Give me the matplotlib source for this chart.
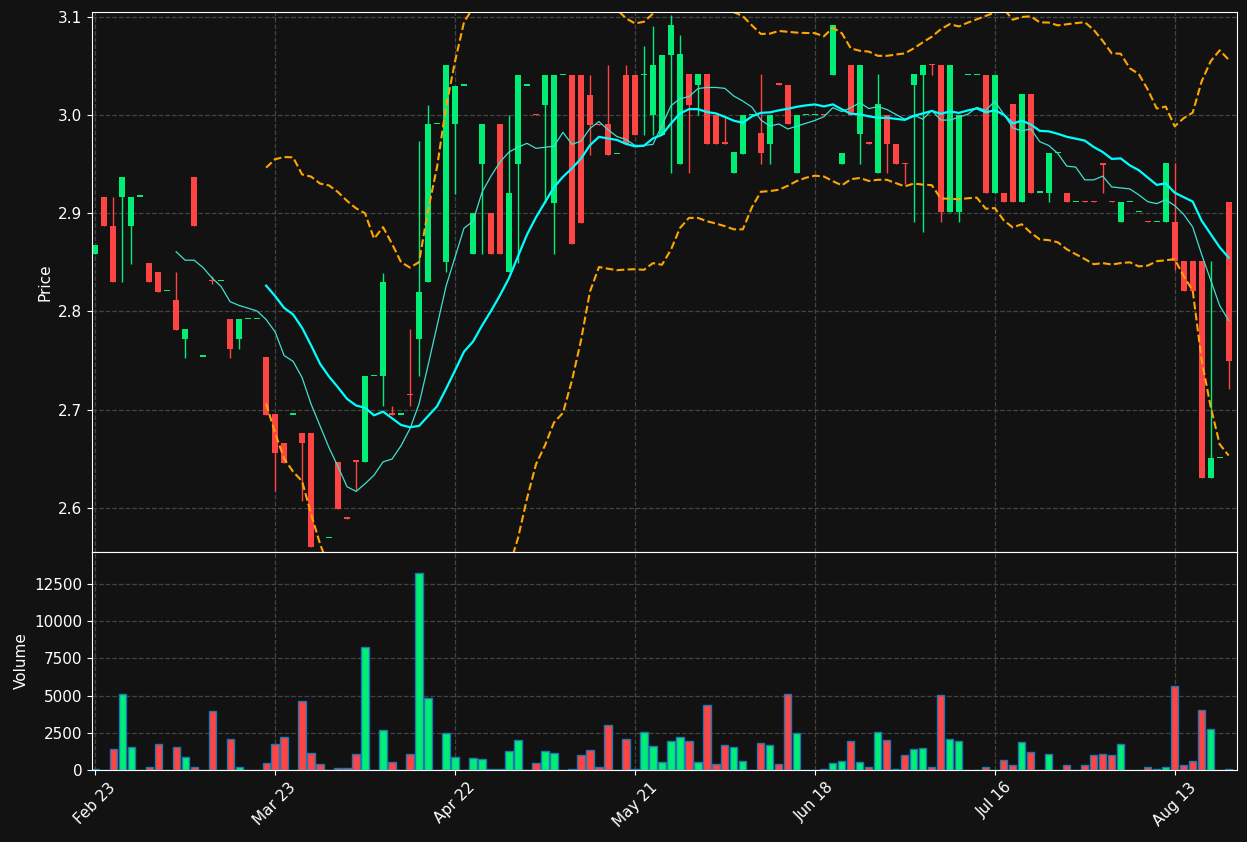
import numpy as np
import pandas as pd
import matplotlib
matplotlib.use("Agg")
import matplotlib.pyplot as plt

# daily OHLC (index-based x axis)
opens = [2.858, 2.917, 2.887, 2.917, 2.887, 2.917, 2.849, 2.840, 2.821, 2.812,
         2.772, 2.937, 2.754, 2.832, 2.831, 2.792, 2.772, 2.792, 2.792, 2.754,
         2.696, 2.666, 2.695, 2.676, 2.676, 2.550, 2.569, 2.647, 2.590, 2.648,
         2.647, 2.734, 2.734, 2.696, 2.695, 2.716, 2.772, 2.830, 2.991, 2.850,
         2.991, 3.030, 2.859, 2.950, 2.900, 2.991, 2.840, 2.950, 3.030, 3.001,
         3.010, 2.910, 3.041, 3.041, 3.041, 3.020, 2.991, 2.991, 2.960, 3.041,
         3.041, 3.041, 3.000, 2.980, 3.061, 2.950, 3.042, 3.031, 3.042, 3.000,
         2.972, 2.941, 2.960, 3.000, 2.982, 2.971, 3.032, 3.031, 2.941, 3.000,
         3.000, 3.001, 3.041, 2.950, 3.051, 2.981, 2.972, 2.941, 3.000, 2.971,
         2.951, 3.031, 3.041, 3.052, 3.051, 2.901, 2.901, 3.041, 3.041, 3.041,
         2.921, 2.921, 3.011, 2.911, 3.021, 2.921, 2.921, 2.961, 2.921, 2.911,
         2.912, 2.912, 2.951, 2.912, 2.891, 2.911, 2.901, 2.892, 2.891, 2.891,
         2.891, 2.851, 2.851, 2.851, 2.630, 2.651, 2.911]
closes = [2.868, 2.887, 2.830, 2.937, 2.917, 2.917, 2.830, 2.820, 2.821, 2.781,
          2.782, 2.887, 2.754, 2.831, 2.831, 2.762, 2.792, 2.792, 2.792, 2.695,
          2.656, 2.646, 2.695, 2.666, 2.560, 2.540, 2.569, 2.599, 2.589, 2.647,
          2.734, 2.734, 2.830, 2.695, 2.695, 2.715, 2.820, 2.991, 2.991, 3.051,
          3.030, 3.030, 2.900, 2.991, 2.859, 2.859, 2.921, 3.041, 3.030, 3.000,
          3.041, 3.041, 3.041, 2.869, 2.890, 2.990, 2.990, 2.959, 2.960, 2.971,
          2.980, 3.041, 3.051, 3.061, 3.092, 3.062, 3.010, 3.042, 2.971, 2.971,
          2.971, 2.962, 3.000, 3.000, 2.961, 3.000, 3.031, 2.991, 3.000, 3.000,
          3.000, 3.000, 3.092, 2.961, 3.000, 3.051, 2.971, 3.011, 2.971, 2.950,
          2.950, 3.042, 3.051, 3.051, 2.901, 3.051, 3.000, 3.041, 3.041, 2.921,
          3.041, 2.911, 2.911, 3.021, 2.921, 2.921, 2.961, 2.961, 2.911, 2.911,
          2.911, 2.911, 2.949, 2.911, 2.911, 2.911, 2.901, 2.891, 2.891, 2.951,
          2.851, 2.821, 2.821, 2.630, 2.651, 2.651, 2.750]
# wick extremes where they go past the body (index: value)
high_wicks = {2: 2.917, 4: 2.917, 9: 2.840, 10: 2.782, 13: 2.836, 16: 2.792,
              32: 2.839, 33: 2.704, 35: 2.782, 36: 2.974, 37: 3.010, 40: 3.030,
              46: 3.000, 55: 3.041, 57: 3.051, 59: 3.051, 61: 3.070, 62: 3.091,
              64: 3.102, 65: 3.082, 67: 3.042, 70: 2.998, 74: 3.042, 87: 3.042,
              91: 3.042, 92: 3.051, 112: 2.951, 120: 2.951, 124: 2.851}
low_wicks = {3: 2.830, 4: 2.848, 10: 2.753, 13: 2.828, 15: 2.753, 16: 2.762,
             20: 2.617, 23: 2.607, 29: 2.618, 32: 2.704, 35: 2.704, 36: 2.734,
             39: 2.840, 40: 2.920, 43: 2.859, 46: 2.840, 47: 2.849, 50: 2.910,
             51: 2.859, 55: 2.959, 61: 2.980, 62: 2.980, 64: 2.941, 66: 2.941,
             67: 3.000, 74: 2.950, 75: 2.950, 85: 2.950, 87: 2.941, 88: 2.941,
             90: 2.930, 91: 2.891, 92: 2.881, 93: 3.041, 94: 2.891, 96: 2.891,
             106: 2.911, 112: 2.921, 120: 2.842, 126: 2.721}
volumes = [90, 0, 1430, 5085, 1570, 0, 180, 1725, 0, 1520,
           900, 180, 0, 3990, 30, 2060, 220, 0, 0, 450,
           1725, 2240, 0, 4660, 1165, 380, 0, 110, 110, 1050,
           8240, 0, 2665, 515, 0, 1050, 13216, 4816, 0, 2464,
           850, 0, 785, 717, 45, 45, 1254, 1994, 0, 448,
           1254, 1120, 0, 45, 986, 1322, 180, 3000, 0, 2060,
           45, 2530, 1590, 515, 1926, 2195, 1926, 515, 4346, 380,
           1657, 1523, 582, 0, 1792, 1657, 380, 5085, 2464, 0,
           0, 45, 448, 582, 1926, 515, 224, 2530, 1994, 45,
           986, 1389, 1456, 180, 5018, 2060, 1926, 0, 0, 224,
           0, 650, 314, 1860, 1187, 0, 1053, 0, 314, 0,
           314, 986, 1053, 986, 1725, 0, 0, 224, 45, 180,
           5622, 314, 582, 4010, 2733, 0, 45]
tick_labels = ["Feb 23", "Mar 23", "Apr 22", "May 21", "Jun 18", "Jul 16", "Aug 13"]
tick_pos = [0, 20, 40, 60, 80, 100, 120]

n = len(closes)
x = np.arange(n)
o = np.array(opens)
c = np.array(closes)
hi = np.maximum(o, c)
lo = np.minimum(o, c)
for k, v in high_wicks.items():
    hi[k] = max(hi[k], v)
for k, v in low_wicks.items():
    lo[k] = min(lo[k], v)

# 10/20 moving averages and 20-bar bands at 2 std
cs = pd.Series(c)
ma10 = cs.rolling(10).mean()
ma20 = cs.rolling(20).mean()
sd20 = cs.rolling(20).std(ddof=0)
upper = ma20 + 2 * sd20
lower = ma20 - 2 * sd20

UP, DOWN, BG = "#00ee76", "#ff4444", "#121212"
cols = [DOWN if cc < oo else UP for oo, cc in zip(o, c)]

fig = plt.figure(figsize=(12.47, 8.42), dpi=100, facecolor=BG)
ax = fig.add_axes([0.0738, 0.3444, 0.918, 0.6414])
axv = fig.add_axes([0.0738, 0.0855, 0.918, 0.2589], sharex=ax)

for a in (ax, axv):
    a.set_facecolor(BG)
    for s in a.spines.values():
        s.set_color("white")
    a.tick_params(colors="white", labelsize=11)
    a.grid(True, color="#444444", linestyle="--", linewidth=0.9)
    a.set_axisbelow(True)

# candles: wick then body (doji get a thin dash)
ax.vlines(x, lo, hi, colors=cols, linewidth=1)
body = np.maximum(np.abs(c - o), 0.0012)
ax.bar(x, body, bottom=np.minimum(o, c), width=0.65, color=cols)

ax.plot(x, ma10, color="#40e0d0", lw=0.9)
ax.plot(x, ma20, color="#00ffff", lw=1.6)
ax.plot(x, upper, color="orange", lw=1.5, ls="--")
ax.plot(x, lower, color="orange", lw=1.5, ls="--")
ax.set_ylim(2.555, 3.105)
ax.set_xlim(-0.35, 126.9)
ax.set_ylabel("Price", color="white", fontsize=11)
ax.tick_params(axis="x", labelbottom=False, length=0)

axv.bar(x, volumes, width=0.8, color=cols, edgecolor="#1f77b4", linewidth=1)
axv.set_ylim(0, 14650)
axv.set_yticks([0, 2500, 5000, 7500, 10000, 12500])
axv.set_ylabel("Volume", color="white", fontsize=11)
axv.set_xticks(tick_pos)
axv.set_xticklabels(tick_labels, rotation=45)
ax.set_xticks(tick_pos)

fig.savefig("out.png", dpi=100, facecolor=BG)
